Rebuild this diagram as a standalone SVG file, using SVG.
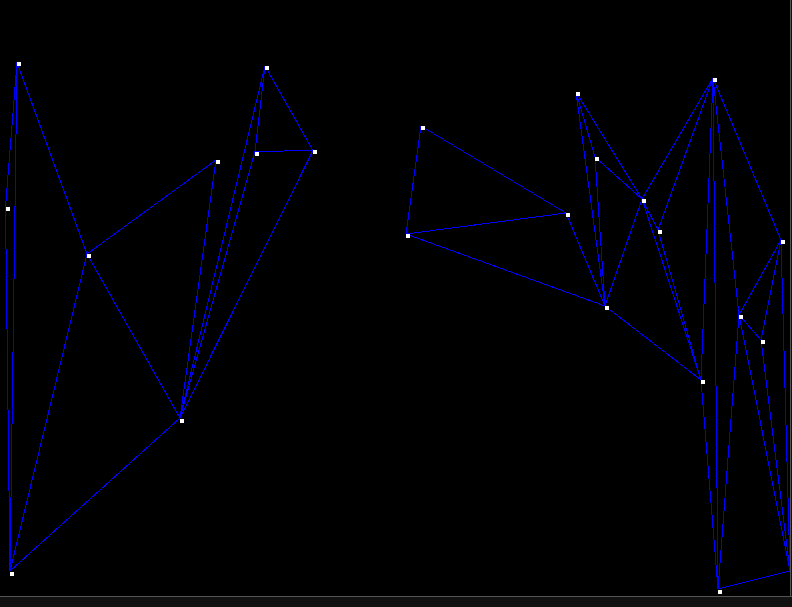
<svg xmlns="http://www.w3.org/2000/svg" width="792" height="607" viewBox="0 0 792 607">
<style>
.e{stroke:#0000ff;stroke-width:1;fill:none;shape-rendering:crispEdges}
.n{fill:#ffffff;shape-rendering:crispEdges}
</style>
<defs>
<clipPath id="cv"><rect x="0" y="0" width="790" height="596"/></clipPath>
</defs>
<rect x="0" y="0" width="792" height="607" fill="#111111"/>
<rect x="0" y="0" width="790" height="596" fill="#000000"/>
<line x1="0" y1="596.5" x2="792" y2="596.5" stroke="#555555" stroke-width="1"/>
<line x1="790.5" y1="0" x2="790.5" y2="596" stroke="#555555" stroke-width="1"/>
<g clip-path="url(#cv)">
<g id="connectors">
<line class="e" x1="17" y1="62.5" x2="5.5" y2="207"/>
<line class="e" x1="5.5" y1="207" x2="10" y2="571"/>
<line class="e" x1="17" y1="62.5" x2="10" y2="571"/>
<line class="e" x1="17" y1="62.5" x2="87" y2="254"/>
<line class="e" x1="87" y1="254" x2="216" y2="160"/>
<line class="e" x1="87" y1="254" x2="180" y2="418"/>
<line class="e" x1="87" y1="254" x2="10" y2="571"/>
<line class="e" x1="216" y1="160" x2="180" y2="418"/>
<line class="e" x1="265" y1="66" x2="255" y2="151.5"/>
<line class="e" x1="265" y1="66" x2="313" y2="150.5"/>
<line class="e" x1="265" y1="66" x2="180" y2="418"/>
<line class="e" x1="255" y1="151.5" x2="313" y2="150.5"/>
<line class="e" x1="255" y1="151.5" x2="180" y2="418"/>
<line class="e" x1="313" y1="150.5" x2="180" y2="418"/>
<line class="e" x1="180" y1="418" x2="10" y2="571"/>
<line class="e" x1="421" y1="126" x2="406" y2="234"/>
<line class="e" x1="421" y1="126" x2="566" y2="213"/>
<line class="e" x1="406" y1="234" x2="566" y2="213"/>
<line class="e" x1="406" y1="234" x2="605" y2="306"/>
<line class="e" x1="566" y1="213" x2="605" y2="306"/>
<line class="e" x1="576" y1="92" x2="595" y2="157"/>
<line class="e" x1="576" y1="92" x2="605" y2="306"/>
<line class="e" x1="576" y1="92" x2="642" y2="199"/>
<line class="e" x1="595" y1="157" x2="605" y2="306"/>
<line class="e" x1="595" y1="157" x2="642" y2="199"/>
<line class="e" x1="642" y1="199" x2="605" y2="306"/>
<line class="e" x1="642" y1="199" x2="713" y2="78"/>
<line class="e" x1="642" y1="199" x2="658" y2="230"/>
<line class="e" x1="642" y1="199" x2="701" y2="380"/>
<line class="e" x1="658" y1="230" x2="713" y2="78"/>
<line class="e" x1="658" y1="230" x2="701" y2="380"/>
<line class="e" x1="605" y1="306" x2="701" y2="380"/>
<line class="e" x1="713" y1="78" x2="781" y2="240"/>
<line class="e" x1="713" y1="78" x2="701" y2="380"/>
<line class="e" x1="713" y1="78" x2="718" y2="589"/>
<line class="e" x1="713" y1="78" x2="739" y2="315"/>
<line class="e" x1="781" y1="240" x2="739" y2="315"/>
<line class="e" x1="781" y1="240" x2="761" y2="340"/>
<line class="e" x1="781" y1="240" x2="790" y2="571"/>
<line class="e" x1="739" y1="315" x2="761" y2="340"/>
<line class="e" x1="739" y1="315" x2="718" y2="589"/>
<line class="e" x1="739" y1="315" x2="790" y2="571"/>
<line class="e" x1="761" y1="340" x2="790" y2="571"/>
<line class="e" x1="701" y1="380" x2="718" y2="589"/>
<line class="e" x1="718" y1="589" x2="790" y2="571"/>
</g>
<g id="A"><rect class="n" x="17" y="62" width="4" height="4"/></g>
<g id="B"><rect class="n" x="6" y="207" width="4" height="4"/></g>
<g id="C"><rect class="n" x="87" y="254" width="4" height="4"/></g>
<g id="D"><rect class="n" x="216" y="160" width="4" height="4"/></g>
<g id="E"><rect class="n" x="265" y="66" width="4" height="4"/></g>
<g id="F"><rect class="n" x="255" y="152" width="4" height="4"/></g>
<g id="G"><rect class="n" x="313" y="150" width="4" height="4"/></g>
<g id="H"><rect class="n" x="180" y="419" width="4" height="4"/></g>
<g id="I"><rect class="n" x="10" y="572" width="4" height="4"/></g>
<g id="J"><rect class="n" x="421" y="126" width="4" height="4"/></g>
<g id="K"><rect class="n" x="406" y="234" width="4" height="4"/></g>
<g id="L"><rect class="n" x="566" y="213" width="4" height="4"/></g>
<g id="M"><rect class="n" x="576" y="92" width="4" height="4"/></g>
<g id="N"><rect class="n" x="595" y="157" width="4" height="4"/></g>
<g id="O"><rect class="n" x="642" y="199" width="4" height="4"/></g>
<g id="P"><rect class="n" x="658" y="230" width="4" height="4"/></g>
<g id="Q"><rect class="n" x="605" y="306" width="4" height="4"/></g>
<g id="R"><rect class="n" x="713" y="78" width="4" height="4"/></g>
<g id="S"><rect class="n" x="781" y="240" width="4" height="4"/></g>
<g id="T"><rect class="n" x="739" y="315" width="4" height="4"/></g>
<g id="U"><rect class="n" x="761" y="340" width="4" height="4"/></g>
<g id="V"><rect class="n" x="701" y="380" width="4" height="4"/></g>
<g id="W"><rect class="n" x="718" y="590" width="4" height="4"/></g>
<g id="X"><rect class="n" x="790" y="571" width="4" height="4"/></g>
</g>
</svg>
